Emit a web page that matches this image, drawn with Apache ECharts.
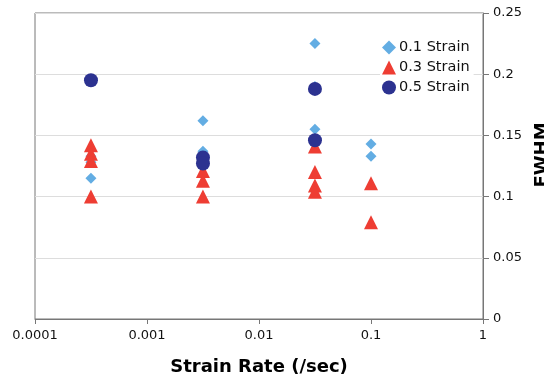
<!DOCTYPE html>
<html><head><meta charset="utf-8">
<script src="https://cdn.jsdelivr.net/npm/echarts@6/dist/echarts.min.js"></script>
<style>html,body{margin:0;padding:0;background:#fff}#c{width:544px;height:376px}</style>
</head><body><div id="c"></div>
<script>
const xTicks = [0.0001, 0.001, 0.01, 0.1, 1];
const yTicks = [0, 0.05, 0.1, 0.15, 0.2, 0.25];
const seriesNames = ['0.1 Strain', '0.3 Strain', '0.5 Strain'];
const strain01 = [[0.000316,0.115],[0.000316,0.128],[0.000316,0.133],[0.00316,0.162],[0.00316,0.137],[0.0316,0.225],[0.0316,0.19],[0.0316,0.155],[0.0316,0.105],[0.1,0.143],[0.1,0.133]];
const strain03 = [[0.000316,0.142],[0.000316,0.135],[0.000316,0.129],[0.000316,0.1],[0.00316,0.121],[0.00316,0.113],[0.00316,0.1],[0.0316,0.141],[0.0316,0.12],[0.0316,0.109],[0.0316,0.104],[0.1,0.111],[0.1,0.079]];
const strain05 = [[0.000316,0.195],[0.00316,0.132],[0.00316,0.127],[0.0316,0.188],[0.0316,0.146]];

const chart = echarts.init(document.getElementById('c'));
const font = "'DejaVu Sans', Verdana, sans-serif";
chart.setOption({
  animation: false,
  grid: {left: 35, right: 61, top: 13, bottom: 57, outerBoundsMode: 'none', containLabel: false, show: true, borderColor: '#777', borderWidth: 1, backgroundColor: 'transparent'},
  legend: {
    left: 380, top: 38, orient: 'vertical', itemGap: 5, itemWidth: 14, itemHeight: 14,
    backgroundColor: '#fff', padding: [2, 4, 2, 2],
    textStyle: {fontFamily: font, fontSize: 14.5, color: '#111', padding: [0, 0, 0, -2]},
    data: [
      {name: seriesNames[0], icon: 'diamond', itemStyle: {color: '#63ADE3'}},
      {name: seriesNames[1], icon: 'triangle', itemStyle: {color: '#EE3D33'}},
      {name: seriesNames[2], icon: 'circle', itemStyle: {color: '#2C3290'}}
    ]
  },
  xAxis: {
    type: 'log', logBase: 10, min: xTicks[0], max: xTicks[xTicks.length - 1],
    name: 'Strain Rate (/sec)', nameLocation: 'middle', nameGap: 39,
    nameTextStyle: {fontFamily: font, fontSize: 18, fontWeight: 'bold', color: '#000'},
    axisLine: {lineStyle: {color: '#777'}},
    axisTick: {show: true, length: 5, lineStyle: {color: '#777'}},
    minorTick: {show: false},
    splitLine: {show: false},
    axisLabel: {fontFamily: font, fontSize: 13, color: '#111', margin: 10,
      formatter: v => { const t = xTicks.find(x => Math.abs(x - v) / x < 1e-6); return t === undefined ? '' : String(t); }}
  },
  yAxis: {
    type: 'value', position: 'right', min: yTicks[0], max: yTicks[yTicks.length - 1], interval: 0.05,
    name: 'FWHM', nameLocation: 'middle', nameGap: 42, nameRotate: 90,
    nameTextStyle: {fontFamily: font, fontSize: 18, fontWeight: 'bold', color: '#000', padding: [0, 0, 0, 22]},
    axisLine: {show: true, lineStyle: {color: '#777'}},
    axisTick: {show: true, length: 6, lineStyle: {color: '#777'}},
    splitLine: {show: true, lineStyle: {color: '#ddd', width: 1}},
    axisLabel: {fontFamily: font, fontSize: 13, color: '#111', margin: 10,
      formatter: v => String(Math.round(v * 100) / 100)}
  },
  series: [
    {name: seriesNames[0], type: 'scatter', symbol: 'diamond', symbolSize: 11, itemStyle: {color: '#63ADE3', opacity: 1}, data: strain01, z: 2},
    {name: seriesNames[1], type: 'scatter', symbol: 'triangle', symbolSize: 14, itemStyle: {color: '#EE3D33', opacity: 1}, data: strain03, z: 3},
    {name: seriesNames[2], type: 'scatter', symbol: 'circle', symbolSize: 14, itemStyle: {color: '#2C3290', opacity: 1}, data: strain05, z: 4}
  ]
});
</script></body></html>
